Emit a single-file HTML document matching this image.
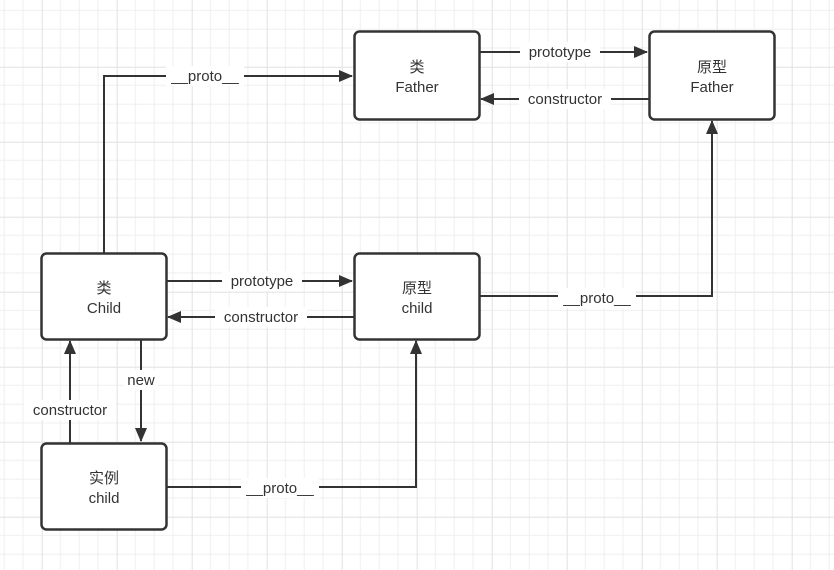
<!DOCTYPE html>
<html><head><meta charset="utf-8"><style>
html,body{margin:0;padding:0;background:#fff}
svg{display:block}
text{font-family:"Liberation Sans","Noto Sans CJK SC",sans-serif;font-size:15px;fill:#333}
</style></head><body>
<svg width="834" height="570" viewBox="0 0 834 570" xmlns="http://www.w3.org/2000/svg">
<defs>
<pattern id="g" x="41.7" y="66.7" width="75" height="75" patternUnits="userSpaceOnUse">
<path d="M18.75 0V75M37.5 0V75M56.25 0V75M0 18.75H75M0 37.5H75M0 56.25H75" stroke="#efefef" stroke-width="1"/>
<path d="M0.5 0V75M0 0.5H75" stroke="#e2e2e2" stroke-width="1"/>
</pattern>
<marker id="a" markerWidth="14" markerHeight="12" refX="13" refY="6" orient="auto" markerUnits="userSpaceOnUse">
<path d="M0 0L14 6L0 12Z" fill="#333"/>
</marker>
</defs>
<rect width="834" height="570" fill="url(#g)"/>
<g fill="none" stroke="#333" stroke-width="2">
<path d="M104 253V76H352" marker-end="url(#a)"/>
<path d="M479 52H647" marker-end="url(#a)"/>
<path d="M649 99H481" marker-end="url(#a)"/>
<path d="M166 281H352" marker-end="url(#a)"/>
<path d="M354 317H168" marker-end="url(#a)"/>
<path d="M479 296H712V121" marker-end="url(#a)"/>
<path d="M141 339V441" marker-end="url(#a)"/>
<path d="M70 443V341" marker-end="url(#a)"/>
<path d="M166 487H416V341" marker-end="url(#a)"/>
</g>
<g fill="#fff" stroke="#333" stroke-width="2.5">
<rect x="354.5" y="31.5" width="125" height="88" rx="5"/>
<rect x="649.5" y="31.5" width="125" height="88" rx="5"/>
<rect x="41.5" y="253.5" width="125" height="86" rx="5"/>
<rect x="354.5" y="253.5" width="125" height="86" rx="5"/>
<rect x="41.5" y="443.5" width="125" height="86" rx="5"/>
</g>
<g text-anchor="middle">
<text x="417" y="72">类</text><text x="417" y="92">Father</text>
<text x="712" y="72">原型</text><text x="712" y="92">Father</text>
<text x="104" y="293">类</text><text x="104" y="313">Child</text>
<text x="417" y="293">原型</text><text x="417" y="313">child</text>
<text x="104" y="483">实例</text><text x="104" y="503">child</text>
</g>
<g text-anchor="middle">
<rect x="166" y="66" width="78" height="20" fill="#fff"/><text x="205" y="81">__proto__</text>
<rect x="520" y="42" width="80" height="20" fill="#fff"/><text x="560" y="57">prototype</text>
<rect x="519" y="89" width="92" height="20" fill="#fff"/><text x="565" y="104">constructor</text>
<rect x="222" y="271" width="80" height="20" fill="#fff"/><text x="262" y="286">prototype</text>
<rect x="215" y="307" width="92" height="20" fill="#fff"/><text x="261" y="322">constructor</text>
<rect x="558" y="288" width="78" height="20" fill="#fff"/><text x="597" y="303">__proto__</text>
<rect x="124" y="370" width="34" height="20" fill="#fff"/><text x="141" y="385">new</text>
<rect x="24" y="400" width="92" height="20" fill="#fff"/><text x="70" y="415">constructor</text>
<rect x="241" y="478" width="78" height="20" fill="#fff"/><text x="280" y="493">__proto__</text>
</g>
</svg>
</body></html>
